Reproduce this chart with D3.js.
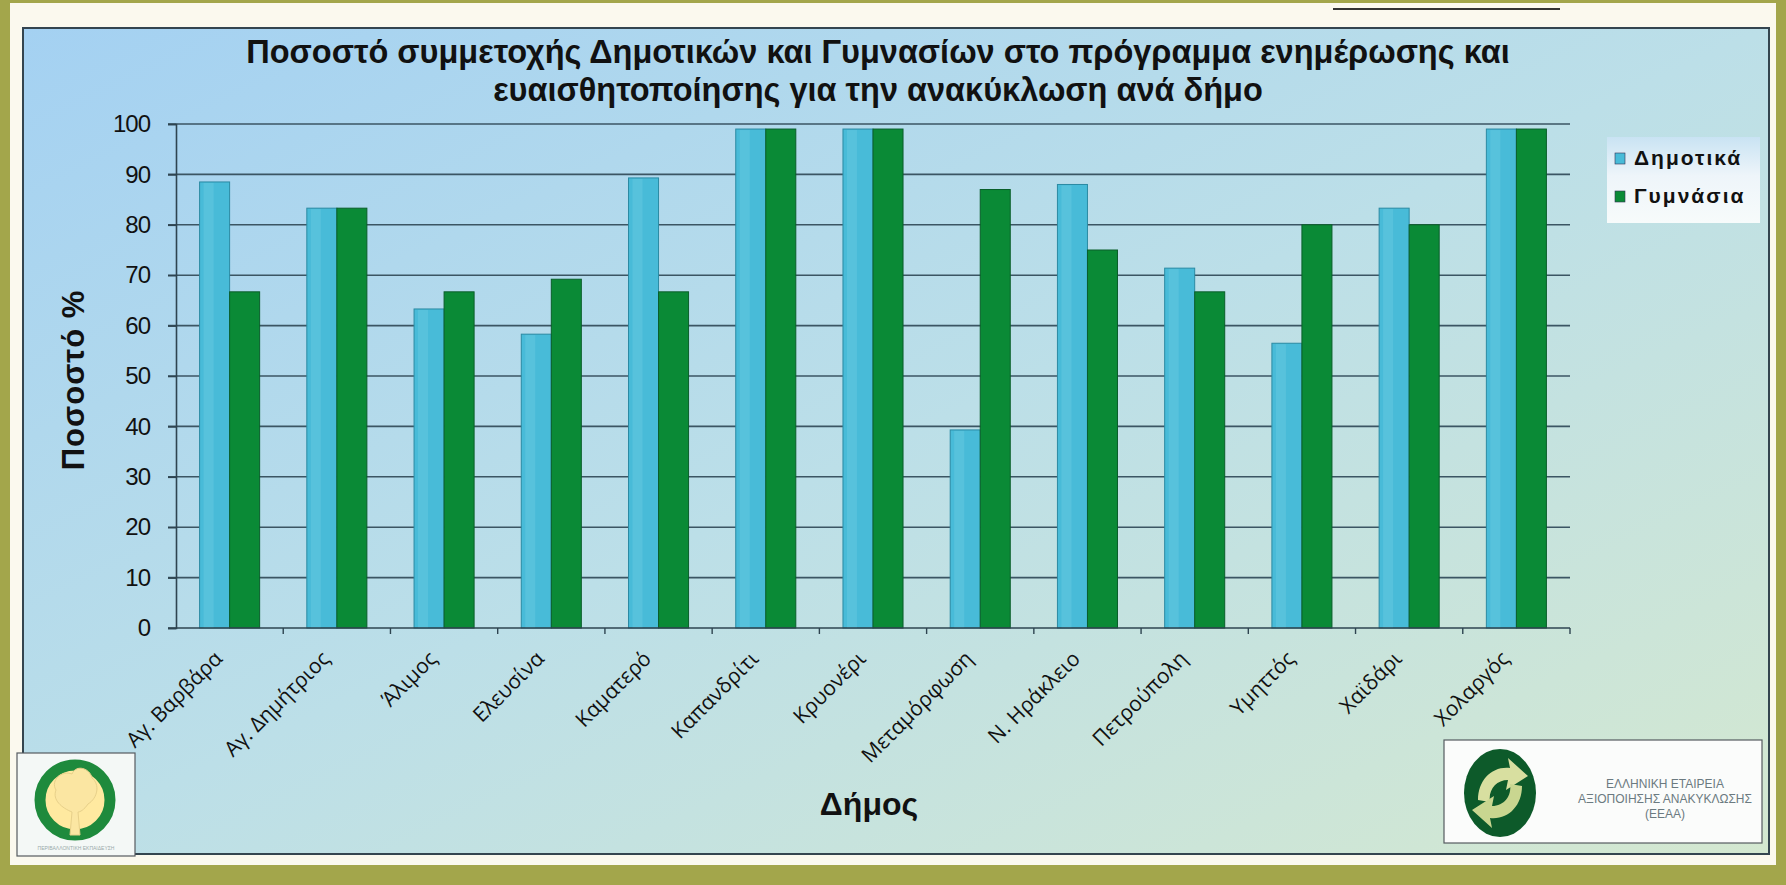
<!DOCTYPE html>
<html>
<head>
<meta charset="utf-8">
<script src="https://cdn.jsdelivr.net/npm/d3@7"></script>
<style>
  body { margin: 0; background: #a3a64b; }
  svg { display: block; }
  .tickLabel { font-family: "Liberation Sans", Arial, sans-serif; font-size: 24px; letter-spacing: -1px; fill: #111; }
  .catLabel { font-family: "Open Sans", sans-serif; font-size: 21px; fill: #111; }
</style>
</head>
<body>
<div id="chart"></div>
<script>
// data
var municipalities = ["Αγ. Βαρβάρα", "Αγ. Δημήτριος", "Άλιμος", "Ελευσίνα", "Καματερό", "Καπανδρίτι",
  "Κρυονέρι", "Μεταμόρφωση", "Ν. Ηράκλειο", "Πετρούπολη", "Υμηττός", "Χαϊδάρι", "Χολαργός"];
var seriesNames = ["Δημοτικά", "Γυμνάσια"];
var dimotika = [88.5, 83.3, 63.3, 58.3, 89.3, 99, 99, 39.3, 88, 71.4, 56.5, 83.3, 99];
var gymnasia = [66.7, 83.3, 66.7, 69.2, 66.7, 99, 99, 87, 75, 66.7, 80, 80, 99];
var yTicks = [0, 10, 20, 30, 40, 50, 60, 70, 80, 90, 100];

var svgWidth = 1786;
var svgHeight = 885;

var plot = { left: 176, right: 1570, top: 124, bottom: 628 };

var svg = d3.select("#chart")
  .append("svg")
  .attr("width", svgWidth)
  .attr("height", svgHeight);

var defs = svg.append("defs");
var bg = defs.append("linearGradient")
  .attr("id", "bgGrad")
  .attr("x1", "0").attr("y1", "0").attr("x2", "1").attr("y2", "1");
bg.append("stop").attr("offset", "0%").attr("stop-color", "#a4d1f2");
bg.append("stop").attr("offset", "50%").attr("stop-color", "#bcdfe8");
bg.append("stop").attr("offset", "100%").attr("stop-color", "#d4e8d0");

var legGrad = defs.append("linearGradient")
  .attr("id", "legGrad")
  .attr("x1", "0").attr("y1", "0").attr("x2", "0").attr("y2", "1");
legGrad.append("stop").attr("offset", "0%").attr("stop-color", "#c9e3f3");
legGrad.append("stop").attr("offset", "45%").attr("stop-color", "#eef5fa");
legGrad.append("stop").attr("offset", "100%").attr("stop-color", "#f7fbfb");

// frame
svg.append("rect")
  .attr("x", 0).attr("y", 0)
  .attr("width", svgWidth).attr("height", svgHeight)
  .attr("fill", "#a3a64b");
svg.append("rect")
  .attr("x", 10).attr("y", 3)
  .attr("width", 1766).attr("height", 862)
  .attr("fill", "#fbf9ee");
svg.append("line")
  .attr("x1", 1333).attr("x2", 1560)
  .attr("y1", 9).attr("y2", 9)
  .attr("stroke", "#333").attr("stroke-width", 2);
svg.append("rect")
  .attr("x", 23).attr("y", 28)
  .attr("width", 1746).attr("height", 826)
  .attr("fill", "url(#bgGrad)")
  .attr("stroke", "#34454f")
  .attr("stroke-width", 2);

// title
var title = svg.append("text")
  .attr("x", 878)
  .attr("text-anchor", "middle")
  .style("font-family", "Liberation Sans, Arial, sans-serif")
  .style("font-weight", "bold")
  .style("font-size", "32.5px")
  .attr("fill", "#111");
title.append("tspan").attr("x", 878).attr("y", 63)
  .text("Ποσοστό συμμετοχής Δημοτικών και Γυμνασίων στο πρόγραμμα ενημέρωσης και");
title.append("tspan").attr("x", 878).attr("y", 101)
  .text("ευαισθητοποίησης για την ανακύκλωση ανά δήμο");

// scales
var xScale = d3.scaleBand()
  .domain(municipalities)
  .range([plot.left, plot.right])
  .paddingInner(0.44)
  .paddingOuter(0.22);

var xSub = d3.scaleBand()
  .domain(seriesNames)
  .range([0, xScale.bandwidth()]);

var yScale = d3.scaleLinear()
  .domain([0, 100])
  .range([plot.bottom, plot.top]);

var colors = { "Δημοτικά": "#48bbd8", "Γυμνάσια": "#0a8a36" };

// gridlines
svg.append("g")
  .selectAll("line")
  .data(yTicks.filter(d => d > 0))
  .enter()
  .append("line")
  .attr("x1", plot.left - 8)
  .attr("x2", plot.right)
  .attr("y1", d => yScale(d))
  .attr("y2", d => yScale(d))
  .attr("stroke", "#3b5563")
  .attr("stroke-width", 1.6);

// y axis
var leftAxis = d3.axisLeft(yScale).tickValues(yTicks).tickSize(8).tickPadding(18);
var yAxisG = svg.append("g")
  .attr("transform", `translate(${plot.left}, 0)`)
  .call(leftAxis);
yAxisG.select(".domain").attr("stroke", "#2e4450").attr("stroke-width", 1.6);
yAxisG.selectAll(".tick line").attr("stroke", "#2e4450").attr("stroke-width", 1.6);
yAxisG.selectAll(".tick text").attr("class", "tickLabel").attr("font-family", null).attr("font-size", null);

// bars
var rows = municipalities.map(function(m, i) {
  return { name: m, values: [{ key: "Δημοτικά", value: dimotika[i] }, { key: "Γυμνάσια", value: gymnasia[i] }] };
});

var groups = svg.append("g")
  .selectAll("g")
  .data(rows)
  .enter()
  .append("g")
  .attr("transform", d => `translate(${xScale(d.name)}, 0)`);

groups.selectAll("rect")
  .data(d => d.values)
  .enter()
  .append("rect")
  .attr("x", d => xSub(d.key))
  .attr("y", d => yScale(d.value))
  .attr("width", xSub.bandwidth())
  .attr("height", d => yScale(0) - yScale(d.value))
  .attr("fill", d => colors[d.key])
  .attr("stroke", d => d.key == "Δημοτικά" ? "#2b8aa3" : "#0a5e2a")
  .attr("stroke-width", 1);

// lighter stripe on the blue bars
groups.selectAll("rect.hl")
  .data(d => d.values.filter(v => v.key == "Δημοτικά"))
  .enter()
  .append("rect")
  .attr("class", "hl")
  .attr("x", d => xSub(d.key) + 4)
  .attr("y", d => yScale(d.value) + 1)
  .attr("width", 10)
  .attr("height", d => yScale(0) - yScale(d.value) - 1)
  .attr("fill", "#62c7e0")
  .attr("opacity", 0.6);

// x axis
var step = xScale.step();
var bounds = d3.range(municipalities.length + 1).map(i => plot.left + i * step);
svg.append("line")
  .attr("x1", plot.left - 8).attr("x2", plot.right)
  .attr("y1", plot.bottom).attr("y2", plot.bottom)
  .attr("stroke", "#2e4450").attr("stroke-width", 1.6);
svg.append("g")
  .selectAll("line")
  .data(bounds.slice(1))
  .enter()
  .append("line")
  .attr("x1", d => d).attr("x2", d => d)
  .attr("y1", plot.bottom).attr("y2", plot.bottom + 6)
  .attr("stroke", "#2e4450").attr("stroke-width", 1.4);

svg.append("g")
  .selectAll("text")
  .data(municipalities)
  .enter()
  .append("text")
  .attr("class", "catLabel")
  .attr("text-anchor", "end")
  .attr("transform", d => `translate(${xScale(d) + xScale.bandwidth() / 2 - 6}, ${plot.bottom + 32}) rotate(-45)`)
  .text(d => d);

// axis titles
svg.append("text")
  .attr("transform", "translate(84, 380) rotate(-90)")
  .attr("text-anchor", "middle")
  .style("font-family", "Liberation Sans, Arial, sans-serif")
  .style("font-weight", "bold")
  .style("font-size", "31px")
  .style("letter-spacing", "1px")
  .attr("fill", "#111")
  .text("Ποσοστό  %");

svg.append("text")
  .attr("x", 869).attr("y", 815)
  .attr("text-anchor", "middle")
  .style("font-family", "Liberation Sans, Arial, sans-serif")
  .style("font-weight", "bold")
  .style("font-size", "32px")
  .attr("fill", "#111")
  .text("Δήμος");

// legend
var legend = svg.append("g").attr("transform", "translate(1607, 137)");
legend.append("rect")
  .attr("width", 153).attr("height", 86)
  .attr("fill", "url(#legGrad)");
legend.selectAll("rect.key")
  .data(seriesNames)
  .enter()
  .append("rect")
  .attr("class", "key")
  .attr("x", 8)
  .attr("y", (d, i) => 16 + i * 38)
  .attr("width", 10).attr("height", 11)
  .attr("fill", d => colors[d])
  .attr("stroke", "#335").attr("stroke-width", 0.6);
legend.selectAll("text")
  .data(seriesNames)
  .enter()
  .append("text")
  .attr("x", 27)
  .attr("y", (d, i) => 28 + i * 38)
  .style("font-family", "Liberation Sans, Arial, sans-serif")
  .style("font-weight", "bold")
  .style("font-size", "21px")
  .style("letter-spacing", "2px")
  .attr("fill", "#111")
  .text(d => d);

// left logo
var logoL = svg.append("g");
logoL.append("rect")
  .attr("x", 17).attr("y", 753).attr("width", 118).attr("height", 103)
  .attr("fill", "#f4f8f6").attr("stroke", "#555b60").attr("stroke-width", 1.2);
logoL.append("circle")
  .attr("cx", 75).attr("cy", 800).attr("r", 35)
  .attr("fill", "#ffe9a0").attr("stroke", "#1e8a3c").attr("stroke-width", 11);
logoL.append("path")
  .attr("d", "M70,835 L72,812 C62,808 52,800 56,790 C50,780 62,770 72,774 C76,764 90,768 92,778 C100,784 98,798 88,804 C84,810 80,812 78,812 L80,835 Z")
  .attr("fill", "#fbe6a2").attr("stroke", "#e7d08a").attr("stroke-width", 1);
logoL.append("text")
  .attr("x", 76).attr("y", 850)
  .attr("text-anchor", "middle")
  .style("font-family", "Liberation Sans, Arial, sans-serif")
  .style("font-size", "5px")
  .attr("fill", "#9aa")
  .text("ΠΕΡΙΒΑΛΛΟΝΤΙΚΗ ΕΚΠΑΙΔΕΥΣΗ");

// right logo
var logoR = svg.append("g");
logoR.append("rect")
  .attr("x", 1444).attr("y", 740).attr("width", 318).attr("height", 103)
  .attr("fill", "#fbfcfb").attr("stroke", "#555b60").attr("stroke-width", 1.2);
logoR.append("ellipse")
  .attr("cx", 1500).attr("cy", 793).attr("rx", 36).attr("ry", 44)
  .attr("fill", "#0d5a2a");
logoR.append("path")
  .attr("d", "M1478,800 C1478,780 1492,766 1510,768 L1508,758 L1528,776 L1506,790 L1508,780 C1496,780 1488,790 1490,802 Z")
  .attr("fill", "#d8dfa0");
logoR.append("path")
  .attr("d", "M1522,786 C1522,806 1508,820 1490,818 L1492,828 L1472,810 L1494,796 L1492,806 C1504,806 1512,796 1510,784 Z")
  .attr("fill", "#c9d690");
var logoText = ["ΕΛΛΗΝΙΚΗ ΕΤΑΙΡΕΙΑ", "ΑΞΙΟΠΟΙΗΣΗΣ ΑΝΑΚΥΚΛΩΣΗΣ", "(ΕΕΑΑ)"];
logoR.selectAll("text.lt")
  .data(logoText)
  .enter()
  .append("text")
  .attr("class", "lt")
  .attr("x", 1665)
  .attr("y", (d, i) => 788 + i * 15)
  .attr("text-anchor", "middle")
  .style("font-family", "Liberation Sans Narrow, Liberation Sans, Arial, sans-serif")
  .style("font-size", "12px")
  .attr("fill", "#6b7a80")
  .text(d => d);
</script>
</body>
</html>
